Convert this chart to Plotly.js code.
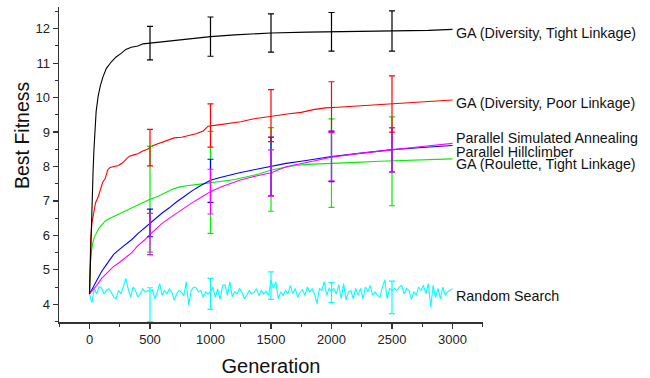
<!DOCTYPE html>
<html>
<head>
<meta charset="utf-8">
<script src="https://cdn.plot.ly/plotly-3.0.1.min.js"></script>
<style>html,body{margin:0;padding:0;background:#fff}#chart{width:650px;height:378px}</style>
</head>
<body>
<div id="chart"></div>
<script>
// ---- Data ----
var blackGen = [0,5,10,16,23,30,37,44,55,71,90,112,140,181,220,264,300,346,400,443,500,600,700,800,1000,1200,1500,1800,2000,2300,2500,2800,3000];
var blackVal = [4.3,5.0,5.7,6.44,7.2,7.9,8.5,9.06,9.6,10.03,10.35,10.61,10.85,11.04,11.18,11.29,11.4,11.46,11.5,11.56,11.58,11.63,11.67,11.7,11.77,11.82,11.875,11.9,11.91,11.92,11.935,11.95,11.98];

var redGen = [0,5,10,20,35,50,70,90,110,130,150,170,200,240,270,300,330,360,400,440,480,520,560,600,650,700,760,820,880,940,980,1050,1150,1250,1350,1450,1550,1650,1750,1850,1950,2050,2150,2250,2350,2450,2550,2650,2750,2850,3000];
var redVal = [4.3,5.3,5.9,6.35,6.7,6.95,7.1,7.35,7.55,7.65,7.9,7.97,8.0,8.03,8.1,8.2,8.3,8.33,8.37,8.45,8.5,8.6,8.65,8.72,8.78,8.83,8.85,8.9,8.95,9.03,9.17,9.2,9.25,9.3,9.38,9.42,9.48,9.53,9.57,9.65,9.7,9.72,9.74,9.76,9.8,9.81,9.83,9.86,9.88,9.9,9.93];

var greenGen = [0,4,8,15,25,40,60,80,100,130,170,220,270,330,400,460,500,560,620,680,740,800,900,1000,1100,1200,1300,1400,1500,1600,1700,1800,2000,2200,2400,2600,2800,3000];
var greenVal = [4.3,4.9,5.2,5.5,5.75,5.95,6.1,6.22,6.3,6.42,6.5,6.58,6.68,6.78,6.88,6.98,7.05,7.12,7.22,7.33,7.4,7.44,7.48,7.53,7.56,7.62,7.7,7.78,7.9,7.97,8.03,8.06,8.1,8.12,8.15,8.17,8.2,8.22];

var blueGen = [0,30,60,100,140,167,200,250,305,350,400,450,500,550,600,660,718,780,850,920,1000,1080,1160,1240,1350,1500,1625,1750,1900,2000,2230,2500,2750,3000];
var blueVal = [4.3,4.5,4.7,4.95,5.15,5.28,5.45,5.6,5.75,5.88,6.05,6.2,6.36,6.5,6.65,6.8,6.97,7.12,7.3,7.45,7.6,7.68,7.76,7.82,7.9,8.0,8.09,8.15,8.24,8.29,8.38,8.49,8.55,8.61];

var magentaGen = [0,30,60,100,140,167,200,250,305,350,400,450,500,550,600,660,718,780,850,920,1000,1080,1160,1240,1350,1500,1625,1750,1900,2000,2230,2500,2750,3000];
var magentaVal = [4.3,4.42,4.55,4.75,4.9,4.99,5.1,5.22,5.38,5.5,5.7,5.85,6.03,6.2,6.35,6.5,6.64,6.78,6.95,7.1,7.27,7.4,7.5,7.6,7.7,7.82,7.99,8.08,8.2,8.27,8.38,8.49,8.58,8.67];

var cyanStep = 20;
var cyanVal = [
 4.30,4.05,4.45,4.30,4.52,4.47,4.30,4.40,4.45,4.35,
 4.20,4.16,4.40,4.30,4.50,4.75,4.45,4.21,4.50,4.40,
 4.21,4.30,4.45,4.35,4.40,4.38,4.42,4.16,4.35,4.60,
 4.26,4.40,4.30,4.45,4.35,4.12,4.30,4.40,4.35,4.25,
 4.65,3.97,4.40,4.50,4.48,4.36,4.40,4.20,4.36,4.30,
 4.36,4.50,4.20,4.45,4.14,4.55,4.56,4.26,4.65,4.22,
 4.36,4.30,4.46,4.35,4.16,4.26,4.40,4.30,4.35,4.45,
 4.25,4.40,4.30,4.38,4.26,4.70,4.46,4.65,4.16,4.36,
 4.26,4.40,4.30,4.55,4.31,4.46,4.20,4.35,4.42,4.26,
 4.50,4.36,4.45,4.30,4.02,4.46,4.40,4.65,4.26,4.46,
 4.38,4.46,4.30,4.57,4.16,4.60,4.12,4.36,4.40,4.16,
 4.46,4.26,4.46,4.16,4.50,4.36,4.55,4.26,4.36,4.26,
 4.20,4.50,4.70,4.16,4.46,4.40,4.46,4.40,4.50,4.55,
 4.30,4.46,4.40,4.14,4.36,4.26,4.50,4.40,4.55,4.30,
 4.60,3.92,4.55,4.20,4.46,4.16,4.50,4.26,4.36,4.40,
 4.45];
var cyanGen = cyanVal.map(function(_, i){ return i * cyanStep; });

// error bars at selected generations
var errGen = [500,1000,1500,2000,2500];
var blackErrY = [11.58,11.77,11.875,11.91,11.935];
var blackErr  = [0.485,0.57,0.555,0.56,0.585];
var redErrY   = [8.55,9.19,9.475,9.735,9.815];
var redErr    = [0.53,0.63,0.755,0.725,0.815];
var greenErrY = [7.05,7.54,7.915,8.095,8.15];
var greenErr  = [1.535,1.48,1.215,1.285,1.29];
var blueErrY  = [6.36,7.585,8.0,8.295,8.485];
var blueErr   = [0.40,0.625,0.85,0.735,0.645];
var magErrY   = [6.04,7.27,7.81,8.28,8.485];
var magErr    = [0.60,0.65,0.67,0.70,0.645];
var cyanErrY  = [4.40,4.30,4.54,4.34,4.20];
var cyanErrP  = [0.08,0.45,0.40,0.29,0.47];
var cyanErrM  = [0.90,0.45,0.40,0.29,0.47];

var seriesNames = ["GA (Diversity, Tight Linkage)","GA (Diversity, Poor Linkage)","Parallel Simulated Annealing","Parallel Hillclimber","GA (Roulette, Tight Linkage)","Random Search"];
var labelY = [11.88,9.84,8.83,8.42,8.07,4.23];
var labelX = 3020;
var xTitle = "Generation";
var yTitle = "Best Fitness";

// ---- Traces ----
function line(x, y, color, name){
  return {x:x, y:y, type:'scatter', mode:'lines', name:name,
          line:{color:color, width:1.1}, hoverinfo:'skip'};
}
function bars(y, err, color, errMinus){
  var e = {type:'data', array:err, visible:true, color:color, thickness:1.2, width:3};
  if (errMinus){ e.symmetric = false; e.arrayminus = errMinus; }
  return {x:errGen, y:y, type:'scatter', mode:'markers',
          marker:{size:1, color:'rgba(0,0,0,0)'}, error_y:e, hoverinfo:'skip'};
}

var traces = [
  line(cyanGen, cyanVal, '#00ffff', seriesNames[5]),
  line(greenGen, greenVal, '#00ee00', seriesNames[4]),
  line(blueGen, blueVal, '#0000ff', seriesNames[3]),
  line(magentaGen, magentaVal, '#ff00ff', seriesNames[2]),
  line(redGen, redVal, '#ff0000', seriesNames[1]),
  line(blackGen, blackVal, '#000000', seriesNames[0]),
  bars(cyanErrY, cyanErrP, '#00ffff', cyanErrM),
  bars(greenErrY, greenErr, '#00ee00'),
  bars(blueErrY, blueErr, '#0000ff'),
  bars(magErrY, magErr, '#ff00ff'),
  bars(redErrY, redErr, '#ff0000'),
  bars(blackErrY, blackErr, '#000000')
];

var annotations = seriesNames.map(function(n, i){
  return {x:labelX, y:labelY[i], xref:'x', yref:'y', text:n, showarrow:false,
          xanchor:'left', yanchor:'middle', borderpad:0, font:{size:14.3, color:'#111'}};
});
annotations.push({x:-0.087, y:0.594, xref:'paper', yref:'paper', text:yTitle, textangle:-90,
  showarrow:false, xanchor:'center', yanchor:'middle', font:{size:19.5, color:'#111'}});

var axisCommon = {
  showline:true, linecolor:'#333', linewidth:1.5, showgrid:false, zeroline:false,
  ticks:'outside', ticklen:5, tickwidth:1.3, tickcolor:'#333',
  tickfont:{size:13, color:'#222'}
};

var layout = {
  width:650, height:378,
  margin:{l:59, r:167, t:7, b:56},
  paper_bgcolor:'#fff', plot_bgcolor:'#fff',
  font:{family:'"Liberation Sans", Arial, sans-serif', color:'#111'},
  showlegend:false,
  xaxis:Object.assign({}, axisCommon, {
    range:[-252, 3252], tickmode:'linear', tick0:0, dtick:500,
    minor:{ticks:'outside', dtick:250, tick0:0, ticklen:3, tickcolor:'#333', tickwidth:1},
    title:{text:xTitle, font:{size:20, color:'#111'}, standoff:13}
  }),
  yaxis:Object.assign({}, axisCommon, {
    range:[3.485, 12.63], tickmode:'linear', tick0:0, dtick:1,
    minor:{ticks:'outside', dtick:0.5, tick0:0, ticklen:3, tickcolor:'#333', tickwidth:1}
  }),
  annotations:annotations
};

Plotly.newPlot('chart', traces, layout, {displayModeBar:false, staticPlot:true});
</script>
</body>
</html>
